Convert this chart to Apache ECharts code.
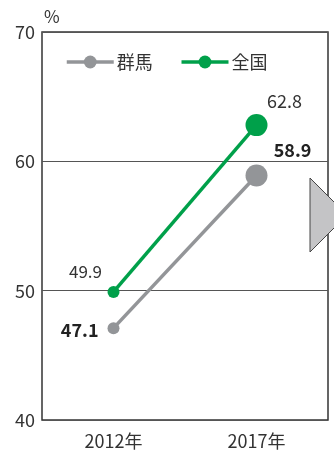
<!DOCTYPE html>
<html><head><meta charset="utf-8">
<script src="https://cdn.jsdelivr.net/npm/echarts@6/dist/echarts.min.js"></script>
<style>html,body{margin:0;padding:0;background:#fff}#c{width:334px;height:454px}</style>
</head><body><div id="c"></div>
<script>
var categories = ['2012年', '2017年'];
var gunmaValues = [47.1, 58.9];
var nationalValues = [49.9, 62.8];
var seriesNames = ['群馬', '全国'];
var yTicks = [40, 50, 60, 70];

var FONT = '"Noto Sans CJK JP", "Noto Sans", sans-serif';
var GRAY = '#939598', GREEN = '#00a04a';
var chart = echarts.init(document.getElementById('c'));

function mkData(vals, labelCfgs) {
  return vals.map(function (v, i) {
    return { value: v, symbolSize: i === vals.length - 1 ? 22 : 12, label: labelCfgs[i] };
  });
}

chart.setOption({
  animation: false,
  textStyle: { fontFamily: FONT },
  grid: { left: 42, right: 6, top: 32, bottom: 34, show: true, borderColor: '#333', borderWidth: 1.5, backgroundColor: 'transparent' },
  legend: {
    left: 65, top: 53, padding: 0, itemWidth: 47, itemHeight: 16, itemGap: 27,
    textStyle: { fontSize: 18, color: '#333', fontFamily: FONT, padding: [0, 0, 0, -2] },
    lineStyle: { width: 3.5 },
    data: seriesNames
  },
  xAxis: {
    type: 'category', data: categories, boundaryGap: true,
    axisLine: { show: false }, axisTick: { show: false },
    axisLabel: { fontSize: 18, color: '#333', margin: 12, fontFamily: FONT }
  },
  yAxis: {
    type: 'value', min: yTicks[0], max: yTicks[yTicks.length - 1], interval: 10,
    name: '%', nameLocation: 'end', nameGap: 7,
    nameTextStyle: { fontSize: 17, color: '#333', align: 'left', padding: [0, 0, 0, 2] },
    axisLine: { show: false }, axisTick: { show: false },
    axisLabel: { fontSize: 18, color: '#333', margin: 7, fontFamily: FONT },
    splitLine: { show: true, lineStyle: { color: '#555', width: 1.2 } }
  },
  series: [
    {
      name: seriesNames[0], type: 'line', data: mkData(gunmaValues, [
        { show: true, position: 'left', distance: 9, fontSize: 18, fontWeight: 'bold', color: '#222', offset: [0, 2] },
        { show: true, position: 'top', distance: 5, fontSize: 18, fontWeight: 'bold', color: '#222', offset: [36, 0] }
      ]),
      symbol: 'circle', color: GRAY,
      lineStyle: { color: GRAY, width: 3.5 }, itemStyle: { color: GRAY },
      label: { formatter: function (p) { return p.value.toFixed(1); }, fontFamily: FONT }
    },
    {
      name: seriesNames[1], type: 'line', data: mkData(nationalValues, [
        { show: true, position: 'top', distance: 6, fontSize: 17, color: '#333', offset: [-28, 0] },
        { show: true, position: 'top', distance: 4, fontSize: 18, color: '#333', offset: [28, 0] }
      ]),
      symbol: 'circle', color: GREEN,
      lineStyle: { color: GREEN, width: 3.5 }, itemStyle: { color: GREEN },
      label: { formatter: function (p) { return p.value.toFixed(1); }, fontFamily: FONT }
    }
  ],
  graphic: [{
    type: 'polygon', z: 100,
    shape: { points: [[310, 178], [347, 215], [310, 252]] },
    style: { fill: '#c4c4c6', stroke: '#444', lineWidth: 1 }
  }]
});
</script></body></html>
